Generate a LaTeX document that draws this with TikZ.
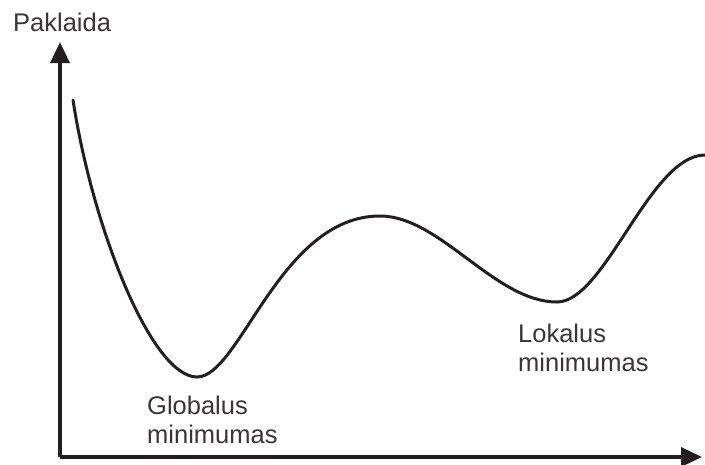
\documentclass[tikz,border=0pt]{standalone}
\usepackage{fontspec}
\setmainfont{Liberation Sans}
\usetikzlibrary{arrows.meta}
\definecolor{ink}{HTML}{231F20}

\begin{document}
\begin{tikzpicture}[x=1pt,y=-1pt,
  axis/.style={line width=3.5pt,ink,-{Triangle[length=21pt,width=19pt]}},
  curve/.style={line width=3pt,ink,line cap=round},
  lbl/.style={anchor=base west,inner sep=0pt,align=left,text=ink!90,
    font=\fontsize{25.5}{28.5}\selectfont}]
\useasboundingbox (0,0) rectangle (705,464);
% axes
\coordinate (o) at (60,457);
\coordinate (ytip) at (60,42);
\coordinate (xtip) at (702,457);
\draw[axis] (o) -- (ytip);
\draw[axis] (o) -- (xtip);
\node[lbl] (paklaida) at (13,31) {Paklaida};
% error curve
\draw[curve] (73,100) .. controls (93,230) and (152,377) .. (197,377)
  .. controls (240,377) and (280,216) .. (380,216)
  .. controls (440,216) and (495,302) .. (557,302)
  .. controls (605,302) and (650,155) .. (705,155);
% labels (base anchor sits on the last line)
\node[lbl] (globalus) at (147,443) {Globalus\\minimumas};
\node[lbl] (lokalus) at (518,371) {Lokalus\\minimumas};
\end{tikzpicture}
\end{document}
